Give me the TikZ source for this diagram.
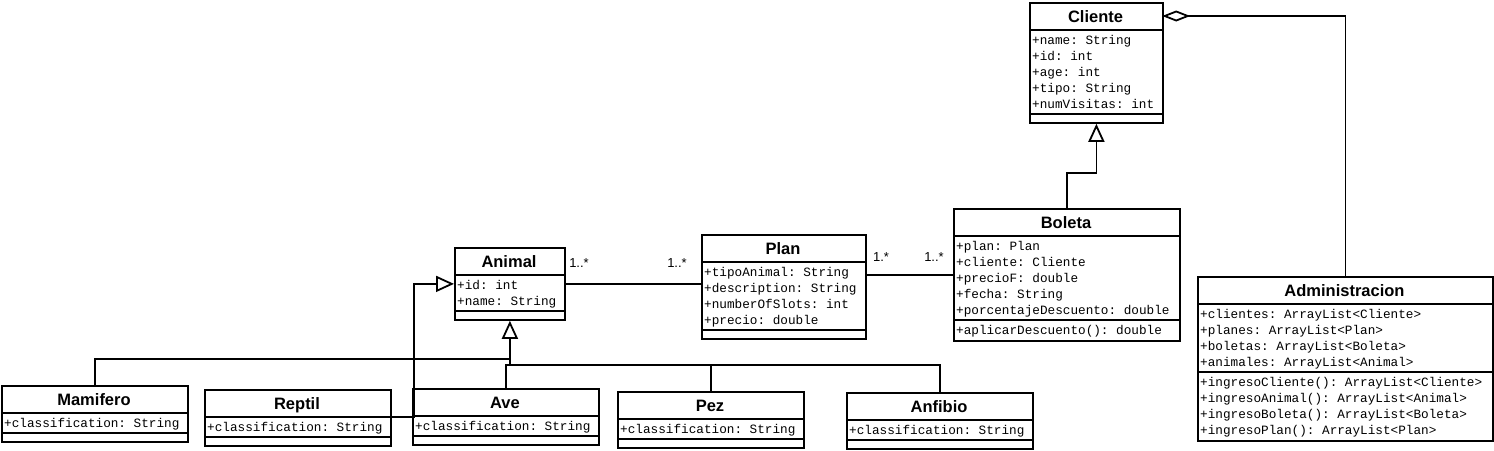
\documentclass[tikz,border=0pt]{standalone}
\usepackage{fontspec}
\setmainfont{Liberation Sans}
\setmonofont{Liberation Mono}
\usetikzlibrary{arrows.meta}

\begin{document}
\begin{tikzpicture}[x=1pt, y=-1pt]
	\tikzstyle{box}=[draw, line width=1.8pt]
	\tikzstyle{title}=[font=\fontsize{16.5}{18}\selectfont\bfseries, inner sep=0pt, text height=12pt, text depth=0pt]
	\tikzstyle{member}=[font=\fontsize{12.7}{16}\selectfont\ttfamily, anchor=west, inner sep=0pt, text height=8pt, text depth=2pt]
	\tikzstyle{mult}=[font=\fontsize{13}{14}\selectfont, inner sep=0pt]
	\tikzstyle{link}=[draw, line width=1.8pt]
	\tikzstyle{inherit}=[link, -{Triangle[open, length=18pt, width=16pt]}]
	\tikzstyle{aggr}=[link, -{Diamond[open, length=28pt, width=11pt]}]

	% name, left, top, right, bottom, title line, attribute line, title
	\newcommand\UMLclass[8]{
		\node [box, anchor=north west, inner sep=0pt, minimum width={(#4-(#2))*1pt}, minimum height={(#5-(#3))*1pt}] (#1) at (#2,#3) {};
		\node [title, minimum width={(#4-(#2))*1pt}, minimum height={(#6-(#3))*1pt}] (#1Title) at ({(#2+#4)/2},{(#3+#6)/2}) {#8};
		\draw [box] (#2,#6) -- (#4,#6);
		\draw [box] (#2,#7) -- (#4,#7);
	}
	% name, left, first line, lines
	\newcommand\UMLlines[4]{
		\foreach \txt [count=\k] in {#4}
			\node [member] (#1Line\k) at (#2, {#3+(\k-1)*16}) {\txt};
	}

	\useasboundingbox (0,0) rectangle (1494,450);

	% Classes
	\UMLclass{Cliente}{1029}{2}{1162}{122}{30}{114}{Cliente}
	\UMLlines{ClienteAttr}{1032}{41}{+name: String,+id: int,+age: int,+tipo: String,+numVisitas: int}

	\UMLclass{Boleta}{953}{208}{1179}{340}{236}{320}{Boleta}
	\UMLlines{BoletaAttr}{956}{247}{+plan: Plan,+cliente: Cliente,+precioF: double,+fecha: String,+porcentajeDescuento: double}
	\UMLlines{BoletaOp}{956}{331}{+aplicarDescuento(): double}

	\UMLclass{Administracion}{1197}{276}{1492}{440}{304}{372}{Administracion}
	\UMLlines{AdministracionAttr}{1200}{315}{+clientes: ArrayList<Cliente>,+planes: ArrayList<Plan>,+boletas: ArrayList<Boleta>,+animales: ArrayList<Animal>}
	\UMLlines{AdministracionOp}{1200}{383}{+ingresoCliente(): ArrayList<Cliente>,+ingresoAnimal(): ArrayList<Animal>,+ingresoBoleta(): ArrayList<Boleta>,+ingresoPlan(): ArrayList<Plan>}

	\UMLclass{Plan}{701}{234}{865}{338}{262}{330}{Plan}
	\UMLlines{PlanAttr}{704}{273}{+tipoAnimal: String,+description: String,+numberOfSlots: int,+precio: double}

	\UMLclass{Animal}{454}{247}{564}{319}{275}{311}{Animal}
	\UMLlines{AnimalAttr}{457}{286}{+id: int,+name: String}

	% Subclasses of Animal
\foreach \cls/\xl/\yt in {Mamifero/1/385,Reptil/204/389,Ave/412/388,Pez/617/391,Anfibio/846/392}
{
	\pgfmathsetmacro{\xr}{\xl + 186}
	\pgfmathsetmacro{\yb}{\yt + 56}
	\pgfmathsetmacro{\ytitle}{\yt + 28}
	\pgfmathsetmacro{\yattr}{\yt + 48}
	\pgfmathsetmacro{\xs}{\xl + 3}
	\pgfmathsetmacro{\ym}{\yt + 39}
	\UMLclass{\cls}{\xl}{\yt}{\xr}{\yb}{\ytitle}{\yattr}{\cls}
	\UMLlines{\cls Attr}{\xs}{\ym}{+classification: String}
}

	% Multiplicities
	\node [mult] (AnimalMult) at (579,263) {1..*};
	\node [mult] (PlanMultA) at (677,263) {1..*};
	\node [mult] (PlanMultB) at (881,257) {1.*};
	\node [mult] (BoletaMult) at (934,257) {1..*};

	% Path Arrows
	\path [link] (Animal.east) -- (Animal.east -| Plan.west);
	\path [link] (Boleta.west -| Plan.east) -- (Boleta.west);
	\path [inherit] (Boleta.north) -- ++(0,-35) -| (Cliente.south);
	\path [aggr] (Administracion.north) |- (ClienteTitle.east);

	\path (Animal.south) ++(0,44) coordinate (Hub);
	\path [inherit] (Hub) -- (Animal.south);
	\path [link] (Mamifero.north) -- ++(0,-26) -| (Hub);
	\path [link] (Ave.north) |- (Hub);
	\path [link] (Pez.north) |- (Hub);
	\path [link] (Anfibio.north) |- (Hub);
	\path [inherit] (ReptilTitle.south east) -- ++(24,0) |- (Animal.west);

\end{tikzpicture}
\end{document}
